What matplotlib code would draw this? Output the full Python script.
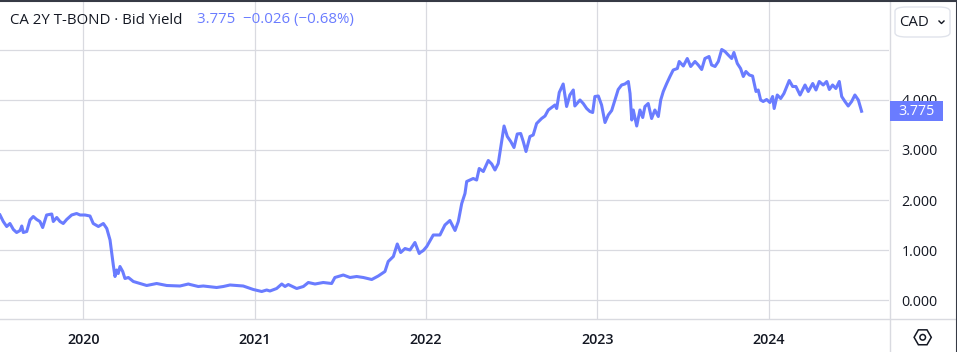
import math

import matplotlib

matplotlib.use("Agg")
import matplotlib.pyplot as plt
from matplotlib.patches import FancyBboxPatch, Rectangle, RegularPolygon, Circle
from matplotlib.transforms import blended_transform_factory
from matplotlib.lines import Line2D

# CA 2Y T-BOND bid yield (decimal year, yield %)
years = [
    2019.514, 2019.533, 2019.553, 2019.572, 2019.592, 2019.611, 2019.631, 2019.641,
    2019.650, 2019.670, 2019.689, 2019.708, 2019.728, 2019.747, 2019.763, 2019.786,
    2019.816, 2019.825, 2019.845, 2019.864, 2019.883, 2019.903, 2019.932, 2019.961,
    2019.981, 2020.010, 2020.039, 2020.058, 2020.088, 2020.117, 2020.137, 2020.156,
    2020.166, 2020.175, 2020.185, 2020.195, 2020.204, 2020.214, 2020.230, 2020.243,
    2020.263, 2020.292, 2020.331, 2020.370, 2020.428, 2020.487, 2020.564, 2020.613,
    2020.623, 2020.671, 2020.700, 2020.778, 2020.817, 2020.856, 2020.933, 2020.992,
    2021.041, 2021.070, 2021.089, 2021.128, 2021.158, 2021.177, 2021.196, 2021.245,
    2021.284, 2021.313, 2021.352, 2021.400, 2021.449, 2021.468, 2021.517, 2021.556,
    2021.595, 2021.634, 2021.683, 2021.721, 2021.760, 2021.779, 2021.809, 2021.832,
    2021.852, 2021.877, 2021.906, 2021.935, 2021.960, 2021.966, 2021.984, 2022.004,
    2022.042, 2022.081, 2022.110, 2022.139, 2022.169, 2022.188, 2022.208, 2022.227,
    2022.237, 2022.275, 2022.295, 2022.310, 2022.334, 2022.363, 2022.383, 2022.402,
    2022.421, 2022.441, 2022.455, 2022.474, 2022.494, 2022.513, 2022.532, 2022.552,
    2022.567, 2022.583, 2022.606, 2022.625, 2022.645, 2022.674, 2022.694, 2022.713,
    2022.733, 2022.752, 2022.762, 2022.777, 2022.800, 2022.820, 2022.839, 2022.859,
    2022.868, 2022.898, 2022.917, 2022.937, 2022.956, 2022.972, 2022.985, 2023.005,
    2023.024, 2023.044, 2023.063, 2023.083, 2023.102, 2023.121, 2023.141, 2023.160,
    2023.180, 2023.190, 2023.200, 2023.209, 2023.229, 2023.248, 2023.264, 2023.277,
    2023.296, 2023.316, 2023.335, 2023.355, 2023.369, 2023.384, 2023.404, 2023.423,
    2023.442, 2023.466, 2023.477, 2023.501, 2023.524, 2023.544, 2023.569, 2023.588,
    2023.608, 2023.627, 2023.651, 2023.666, 2023.686, 2023.705, 2023.725, 2023.744,
    2023.763, 2023.783, 2023.796, 2023.816, 2023.835, 2023.851, 2023.866, 2023.886,
    2023.905, 2023.925, 2023.938, 2023.952, 2023.967, 2023.987, 2024.006, 2024.022,
    2024.031, 2024.049, 2024.069, 2024.088, 2024.119, 2024.139, 2024.158, 2024.182,
    2024.211, 2024.230, 2024.256, 2024.275, 2024.294, 2024.317, 2024.337, 2024.353,
    2024.372, 2024.391, 2024.411, 2024.425, 2024.444, 2024.463, 2024.483, 2024.502,
    2024.522, 2024.541,
]
yields = [
    1.70, 1.57, 1.47, 1.53, 1.41, 1.35, 1.39, 1.48,
    1.35, 1.37, 1.60, 1.67, 1.61, 1.57, 1.45, 1.70,
    1.72, 1.57, 1.65, 1.57, 1.53, 1.61, 1.70, 1.73,
    1.70, 1.70, 1.68, 1.53, 1.47, 1.53, 1.43, 1.20,
    0.93, 0.70, 0.47, 0.60, 0.53, 0.67, 0.57, 0.43,
    0.45, 0.37, 0.33, 0.29, 0.33, 0.29, 0.28, 0.32,
    0.31, 0.27, 0.28, 0.25, 0.27, 0.30, 0.28, 0.21,
    0.17, 0.20, 0.18, 0.23, 0.32, 0.27, 0.31, 0.23,
    0.27, 0.35, 0.32, 0.35, 0.33, 0.45, 0.50, 0.45,
    0.47, 0.45, 0.41, 0.48, 0.57, 0.77, 0.87, 1.12,
    0.95, 1.03, 1.00, 1.15, 0.93, 0.95, 0.99, 1.07,
    1.30, 1.30, 1.50, 1.59, 1.39, 1.57, 1.93, 2.13,
    2.37, 2.43, 2.40, 2.63, 2.57, 2.79, 2.72, 2.60,
    2.73, 3.17, 3.48, 3.27, 3.17, 3.05, 3.32, 3.33,
    3.17, 2.97, 3.27, 3.30, 3.53, 3.63, 3.68, 3.80,
    3.85, 3.90, 3.83, 4.15, 4.32, 3.87, 4.10, 4.20,
    3.88, 4.00, 3.93, 3.83, 3.77, 3.75, 4.07, 4.08,
    3.90, 3.55, 3.70, 3.79, 4.00, 4.21, 4.30, 4.32,
    4.37, 4.13, 3.60, 3.80, 3.48, 3.80, 3.65, 3.87,
    3.93, 3.63, 3.80, 3.67, 4.00, 4.17, 4.33, 4.47,
    4.60, 4.63, 4.77, 4.68, 4.83, 4.67, 4.77, 4.70,
    4.61, 4.83, 4.87, 4.70, 4.67, 4.77, 5.01, 4.97,
    4.90, 4.83, 4.95, 4.73, 4.63, 4.47, 4.57, 4.50,
    4.48, 4.17, 4.20, 4.00, 3.97, 4.01, 3.95, 4.07,
    3.83, 4.10, 4.03, 4.13, 4.39, 4.27, 4.27, 4.10,
    4.30, 4.17, 4.33, 4.20, 4.37, 4.30, 4.37, 4.21,
    4.30, 4.23, 4.37, 4.07, 3.97, 3.88, 3.97, 4.10,
    4.00, 3.775,
]
year_ticks = [2020, 2021, 2022, 2023, 2024]
price_ticks = [0, 1, 2, 3, 4]

LINE = "#6a7cff"
GRID = "#d9dae0"
TEXT = "#131722"
FONT = ["Open Sans", "DejaVu Sans"]

W, H = 957, 352
fig = plt.figure(figsize=(W / 100, H / 100), dpi=100)
fig.patch.set_facecolor("white")

ax = fig.add_axes([0, 33 / H, 889 / W, 319 / H])
ax.plot(years, yields, color=LINE, lw=2.2, solid_joinstyle="round", zorder=3)
ax.set_xlim(2019.514, 2024.701)
ax.set_ylim(-0.38, 6.0)
for s in ax.spines.values():
    s.set_visible(False)
ax.set_yticks([0, 1, 2, 3, 4, 5])
ax.grid(True, color=GRID, lw=0.9)
ax.set_xticks(year_ticks)
ax.set_xticklabels([str(y) for y in year_ticks], family=FONT, fontsize=10.3,
                   fontweight="semibold", color=TEXT)
ax.tick_params(axis="x", length=0, pad=10)
ax.yaxis.tick_right()
ax.set_yticklabels([f"{v:.3f}" for v in price_ticks] + [""], family=FONT,
                   fontsize=10.3, color=TEXT)
ax.tick_params(axis="y", length=0, pad=9)

# pane separators and outer frame
fig.add_artist(Line2D([0, 1], [33 / H, 33 / H], color=GRID, lw=1))
fig.add_artist(Line2D([889.5 / W, 889.5 / W], [0, 1], color=GRID, lw=1))
fig.add_artist(Line2D([0, 1], [1 - 0.5 / H, 1 - 0.5 / H], color="#363a45", lw=1.5))
fig.add_artist(Line2D([1 - 0.5 / W, 1 - 0.5 / W], [0, 1], color="#363a45", lw=1.5))

# last price label on the scale (sits over the 4.000 label, as on the source)
tr = blended_transform_factory(fig.transFigure, ax.transData)
last = yields[-1]
fig.add_artist(Rectangle((890 / W, last - 0.2), 53 / W, 0.4, transform=tr,
                         facecolor=LINE, edgecolor="none", zorder=5))
fig.text(898 / W, last, f"{last:.3f}", transform=tr, color="white",
         fontsize=10.3, family=FONT, va="center", ha="left", zorder=6)

# header legend
fig.text(10 / W, 1 - 20 / H, "CA 2Y T-BOND · Bid Yield", color=TEXT,
         fontsize=10.8, family=FONT, va="center", ha="left")
fig.text(197 / W, 1 - 20 / H, "3.775  \u22120.026 (\u22120.68%)", color=LINE,
         fontsize=10.8, family=FONT, va="center", ha="left")

# currency button
fig.add_artist(FancyBboxPatch((895 / W, 1 - 37 / H), 55 / W, 30 / H,
                              boxstyle="round,pad=0,rounding_size=0.012",
                              facecolor="white", edgecolor="#e0e3eb", lw=1))
fig.text(899 / W, 1 - 22 / H, "CAD", color=TEXT, fontsize=10.8, family=FONT,
         va="center", ha="left")
fig.add_artist(Line2D([939 / W, 941.5 / W, 944 / W],
                      [1 - 21 / H, 1 - 23.5 / H, 1 - 21 / H], color=TEXT, lw=1))

# settings icon
icon = fig.add_axes([912.7 / W, (352 - 347.3) / H, 20 / W, 20 / H])
icon.set_xlim(-10, 10)
icon.set_ylim(-10, 10)
icon.set_axis_off()
icon.add_patch(RegularPolygon((0, 0), 6, radius=8.6, orientation=math.pi / 6,
                              facecolor="none", edgecolor=TEXT, lw=1.1))
icon.add_patch(Circle((0, 0), 2.8, facecolor="none", edgecolor=TEXT, lw=1.1))

fig.savefig("out.png", dpi=100)
